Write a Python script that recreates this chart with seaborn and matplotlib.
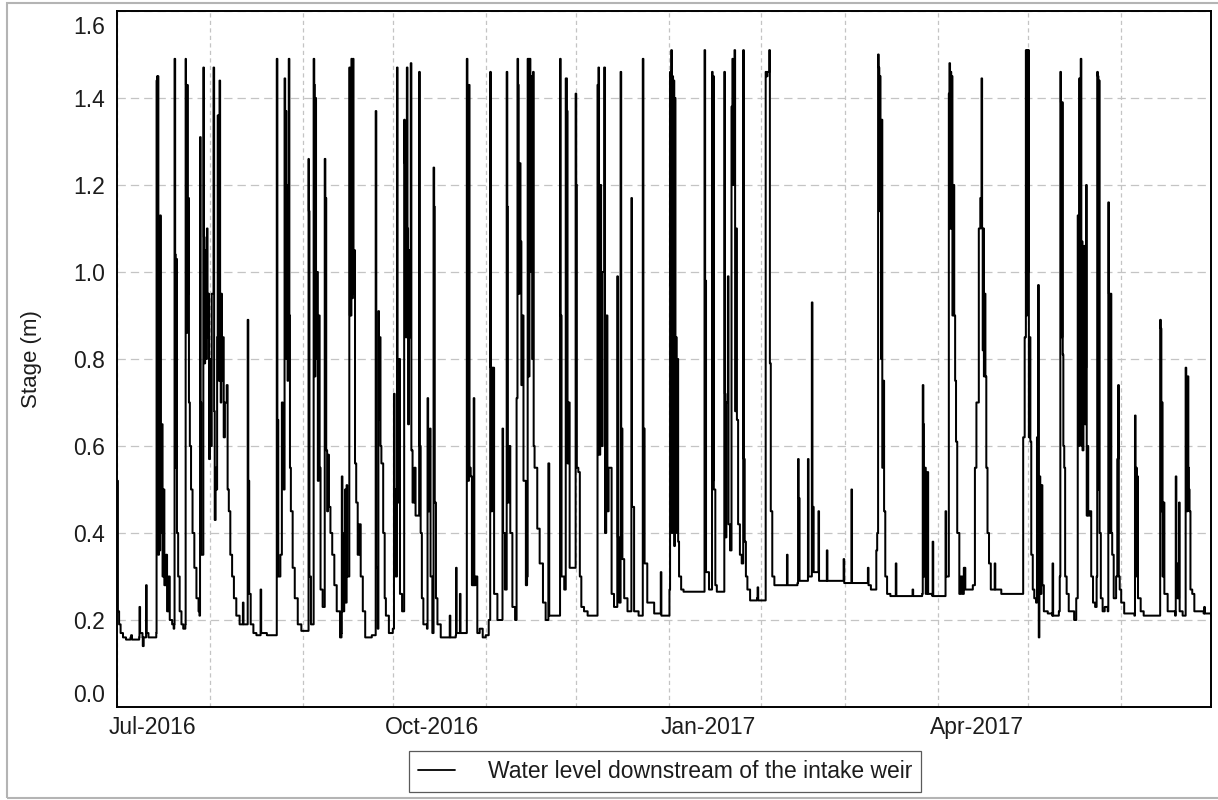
import pandas as pd
import matplotlib
matplotlib.use("Agg")
import matplotlib.pyplot as plt
import matplotlib.dates as mdates
from matplotlib.ticker import FixedLocator, FormatStrFormatter
from matplotlib.transforms import ScaledTranslation
from matplotlib.patches import Rectangle
import seaborn as sns

# Stage readings as (days since 2016-07-01, stage in metres), one list per month
START = "2016-07-01"
END = "2017-06-30 23:00"

jul_2016 = [
    (0.0, 0.52), (0.3, 0.22), (0.7, 0.19), (1.2, 0.17), (2.0, 0.16), (3.0, 0.155), (4.5, 0.16), (4.7, 0.165),
    (5.0, 0.155), (6.5, 0.155), (7.4, 0.16), (7.5, 0.23), (7.7, 0.17), (8.5, 0.16), (8.6, 0.14), (8.9, 0.16),
    (9.6, 0.16), (9.7, 0.28), (9.9, 0.17), (10.5, 0.16), (12.9, 0.16),
    (13.1, 0.17), (13.2, 1.44), (13.4, 1.45), (13.5, 0.68), (13.6, 1.45), (13.8, 0.35), (14.0, 0.70), (14.1, 0.36),
    (14.4, 1.13), (14.6, 0.62), (14.8, 0.40), (15.0, 0.65), (15.2, 0.30), (15.5, 0.50), (15.8, 0.28), (16.3, 0.35),
    (16.7, 0.22), (17.2, 0.30), (17.6, 0.20), (18.4, 0.19), (18.9, 0.18),
    (19.1, 0.19), (19.2, 1.49), (19.4, 1.04), (19.6, 0.55), (19.8, 1.03), (20.0, 0.40), (20.4, 0.30), (20.9, 0.22),
    (21.5, 0.19), (22.1, 0.18),
    (22.8, 0.19), (22.9, 1.49), (23.0, 1.43), (23.2, 0.86), (23.4, 1.43), (23.6, 0.95), (23.8, 1.17), (24.0, 0.70),
    (24.3, 0.60), (24.7, 0.50), (25.2, 0.40), (25.8, 0.32), (26.5, 0.25), (27.2, 0.22), (27.5, 0.21),
    (27.7, 1.31), (27.9, 0.70), (28.1, 0.35), (28.8, 1.47), (29.0, 1.08), (29.2, 0.79), (29.4, 1.05), (29.6, 0.80),
    (30.0, 1.10), (30.2, 0.85), (30.5, 0.95), (30.7, 0.57), (31.0, 0.80),
]
aug_2016 = [
    (31.2, 0.60), (31.6, 0.95), (32.2, 1.47), (32.4, 0.68), (32.6, 0.43), (32.9, 0.55), (33.2, 0.50), (33.4, 0.85),
    (33.6, 1.36), (33.8, 1.00), (34.0, 0.75), (34.2, 1.44), (34.4, 0.95), (34.6, 0.70), (34.8, 0.95), (35.0, 0.75),
    (35.3, 0.85), (35.6, 0.62), (36.0, 0.70), (36.6, 0.74), (36.9, 0.50), (37.3, 0.45), (37.8, 0.35), (38.4, 0.30),
    (39.0, 0.25), (39.8, 0.21), (40.9, 0.19),
    (41.9, 0.19), (42.0, 0.24), (42.2, 0.19), (43.5, 0.19), (43.6, 0.89), (43.8, 0.52), (44.1, 0.26), (44.6, 0.19),
    (45.5, 0.17), (46.5, 0.165), (47.8, 0.165), (47.9, 0.27), (48.1, 0.17), (50.0, 0.165), (53.1, 0.165),
    (53.3, 1.49), (53.5, 0.66), (53.8, 0.30), (54.5, 0.35), (55.0, 0.70), (55.3, 0.56), (55.6, 0.50), (55.9, 1.445),
    (56.1, 1.10), (56.3, 1.37), (56.5, 0.80), (56.7, 1.20), (56.9, 0.75), (57.1, 1.13), (57.3, 1.49), (57.5, 0.90),
    (57.7, 0.55), (58.0, 0.45), (58.6, 0.32), (59.3, 0.25), (60.3, 0.19), (61.5, 0.175),
]
sep_2016 = [
    (63.7, 0.175), (63.9, 1.26), (64.0, 1.14), (64.2, 0.30), (64.7, 0.19), (65.6, 1.49), (65.8, 1.43), (66.0, 0.76),
    (66.2, 1.40), (66.4, 0.80), (66.7, 1.00), (67.0, 0.52), (67.3, 0.90), (67.6, 0.55), (67.9, 0.27), (68.6, 0.23),
    (69.3, 1.26), (69.5, 1.17), (69.8, 0.59), (70.1, 0.45), (70.4, 0.58), (70.7, 0.46), (71.2, 0.40), (71.8, 0.35),
    (72.5, 0.28), (73.3, 0.22), (74.4, 0.16), (74.9, 0.17),
    (75.0, 0.53), (75.2, 0.22), (75.8, 0.40), (76.1, 0.50), (76.3, 0.24), (76.6, 0.51), (76.8, 0.30), (77.5, 1.47),
    (77.7, 0.90), (78.2, 1.49), (78.4, 0.94), (78.7, 1.49), (78.9, 0.95), (79.2, 1.05), (79.4, 0.56), (79.8, 0.47),
    (80.3, 0.35), (80.8, 0.42), (81.3, 0.30), (82.0, 0.22), (82.8, 0.16), (85.0, 0.165), (86.1, 0.165),
    (86.3, 1.37), (86.5, 0.32), (87.0, 0.18), (87.2, 0.91), (87.4, 0.66), (87.6, 0.85), (87.9, 0.60), (88.2, 0.56),
    (88.8, 0.40), (89.3, 0.25), (89.7, 0.21), (90.7, 0.17), (92.0, 0.18),
]
oct_2016 = [
    (92.4, 0.72), (92.6, 0.50), (93.0, 0.30), (93.4, 1.47), (93.6, 0.80), (93.9, 0.47), (94.1, 0.80), (94.4, 0.26),
    (95.1, 0.22), (95.8, 1.35), (96.0, 1.25), (96.3, 0.85), (96.7, 1.47), (96.9, 1.10), (97.1, 0.65), (97.4, 1.05),
    (97.7, 0.85), (98.0, 1.48), (98.2, 0.59), (98.6, 0.47), (99.2, 0.55), (99.6, 0.44), (100.8, 1.46), (101.0, 0.60),
    (101.3, 0.40), (101.7, 0.25), (102.2, 0.19), (103.4, 0.18),
    (103.6, 0.71), (103.8, 0.45), (104.4, 0.64), (104.6, 0.30), (105.2, 0.17), (105.6, 1.24), (105.8, 1.15),
    (106.0, 0.47), (106.4, 0.25), (106.9, 0.19), (108.0, 0.16), (110.0, 0.16), (111.0, 0.21), (111.2, 0.16),
    (113.0, 0.165), (113.1, 0.32), (113.3, 0.17), (114.4, 0.26), (114.6, 0.17), (116.5, 0.17),
    (116.7, 1.49), (116.9, 1.43), (117.1, 0.52), (117.4, 1.43), (117.6, 0.55), (118.0, 0.53), (118.4, 0.28),
    (119.0, 0.71), (119.2, 0.28), (119.6, 0.30), (120.2, 0.17), (121.0, 0.18), (122.0, 0.16),
]
nov_2016 = [
    (123.0, 0.165), (124.0, 0.20), (124.5, 1.46), (124.7, 0.78), (124.9, 0.45), (125.2, 0.78), (125.8, 0.26),
    (126.9, 0.20), (128.3, 0.20),
    (128.6, 0.64), (128.8, 0.40), (129.4, 0.27), (130.0, 1.46), (130.2, 1.15), (130.4, 0.47), (130.7, 0.60),
    (131.2, 0.40), (131.9, 0.23), (132.8, 0.20),
    (133.3, 0.71), (133.6, 1.49), (133.8, 1.43), (134.0, 0.95), (134.3, 1.25), (134.6, 1.07), (134.9, 0.74),
    (135.2, 0.90), (135.6, 0.52), (136.4, 0.28), (136.8, 0.30), (137.0, 1.49), (137.3, 0.76), (137.6, 1.49),
    (137.9, 1.00), (138.2, 1.45), (138.5, 0.80), (138.8, 1.46), (139.0, 0.60), (139.3, 0.55), (140.2, 0.41),
    (141.0, 0.33), (142.1, 0.24), (143.0, 0.20), (143.9, 0.56), (144.2, 0.21), (145.0, 0.21), (147.4, 0.21),
    (147.8, 1.49), (148.0, 0.90), (148.3, 0.30), (149.2, 0.27), (149.7, 1.445), (150.1, 1.37), (150.3, 0.56),
    (150.6, 0.70), (151.0, 0.32), (153.0, 1.41),
]
dec_2016 = [
    (153.2, 1.20), (153.4, 0.55), (153.9, 0.54), (154.4, 0.30), (154.9, 0.23), (155.8, 0.22), (157.0, 0.21),
    (159.8, 0.21),
    (160.3, 1.43), (160.6, 1.47), (160.8, 0.58), (161.2, 1.20), (161.5, 0.60), (162.0, 1.00), (162.5, 1.47),
    (162.8, 0.40), (163.2, 0.90), (163.6, 0.45), (164.0, 0.55), (165.0, 0.26), (165.8, 0.23), (166.9, 0.99),
    (167.1, 0.39), (167.5, 0.24), (168.0, 1.46), (168.2, 0.64), (168.6, 0.34), (169.2, 0.25), (170.3, 0.22),
    (171.6, 1.17), (171.8, 0.46), (172.5, 0.22), (174.0, 0.21), (175.4, 1.49), (175.6, 0.64), (176.0, 0.33),
    (176.9, 0.24), (179.2, 0.215), (181.4, 0.31), (181.6, 0.21), (183.0, 0.21),
]
jan_2017 = [
    (184.3, 0.27), (184.5, 1.46), (184.7, 0.97), (184.9, 1.51), (185.1, 0.40), (185.3, 1.45), (185.5, 0.70),
    (185.7, 1.44), (185.9, 0.37), (186.1, 1.40), (186.3, 0.55), (186.5, 0.85), (186.7, 0.40), (186.9, 0.80),
    (187.2, 0.38), (187.5, 0.30), (188.2, 0.27), (189.0, 0.265), (195.8, 0.265),
    (196.0, 1.51), (196.2, 0.98), (196.5, 0.31), (197.5, 0.27), (198.5, 1.46), (198.7, 0.52), (198.9, 1.45),
    (199.1, 0.50), (199.6, 0.28), (200.1, 0.265), (202.4, 0.265),
    (202.6, 1.46), (202.8, 0.72), (203.0, 0.39), (203.3, 0.70), (203.8, 0.99), (204.0, 0.42), (204.5, 0.36),
    (205.0, 1.38), (205.3, 1.49), (205.5, 1.20), (205.7, 1.30), (206.0, 1.51), (206.2, 0.68), (206.5, 1.10),
    (206.8, 0.66), (207.2, 0.42), (207.8, 0.35), (208.4, 0.33), (208.9, 1.51), (209.1, 0.57), (209.4, 0.38),
    (209.8, 0.30), (210.3, 0.27), (211.2, 0.245), (213.5, 0.25), (213.7, 0.275), (213.9, 0.245),
]
feb_2017 = [
    (216.2, 0.245), (216.4, 1.46), (216.6, 1.45), (217.0, 1.46), (217.6, 1.51), (217.8, 0.79), (218.1, 0.45),
    (218.6, 0.30), (219.3, 0.28), (223.3, 0.28), (223.5, 0.35), (223.7, 0.28), (227.0, 0.285), (227.2, 0.57),
    (227.4, 0.48), (227.7, 0.29), (230.3, 0.29), (230.5, 0.57), (230.7, 0.30), (231.6, 0.30), (231.8, 0.93),
    (232.0, 0.46), (232.4, 0.31), (233.8, 0.31), (234.0, 0.45), (234.2, 0.29), (236.6, 0.29), (236.8, 0.36),
    (237.0, 0.29), (242.2, 0.29), (242.4, 0.34), (242.6, 0.285),
]
mar_2017 = [
    (244.8, 0.285), (245.0, 0.50), (245.2, 0.285), (250.3, 0.285), (250.5, 0.32), (250.7, 0.28), (251.5, 0.27),
    (253.0, 0.27), (253.3, 0.36), (253.6, 0.40), (253.9, 1.50), (254.1, 1.47), (254.3, 1.14), (254.5, 1.45),
    (254.7, 1.20), (254.9, 0.80), (255.1, 1.35), (255.3, 0.55), (255.6, 0.75), (255.9, 0.45), (256.3, 0.30),
    (256.9, 0.26), (258.0, 0.255), (259.7, 0.255), (259.8, 0.33), (260.0, 0.255), (265.3, 0.255), (265.4, 0.27),
    (265.6, 0.255), (268.6, 0.26), (268.8, 0.74), (269.0, 0.65), (269.2, 0.30), (269.5, 0.55), (269.8, 0.26),
    (270.3, 0.54), (270.6, 0.26), (272.0, 0.255), (272.1, 0.38), (272.3, 0.255),
]
apr_2017 = [
    (276.0, 0.255), (276.4, 0.45), (276.6, 0.30), (277.5, 1.41), (277.7, 1.48), (277.9, 1.10), (278.1, 1.46),
    (278.3, 1.10), (278.5, 1.45), (278.7, 0.90), (279.0, 1.20), (279.3, 0.90), (279.6, 0.75), (279.9, 0.61),
    (280.3, 0.40), (280.7, 0.40), (281.0, 0.26), (281.5, 0.30), (282.0, 0.26), (282.5, 0.32), (283.0, 0.27),
    (285.5, 0.28),
    (286.2, 0.55), (286.7, 0.70), (287.5, 1.10), (288.0, 1.17), (288.4, 1.445), (288.6, 1.10), (288.8, 0.82),
    (289.0, 1.10), (289.2, 0.76), (289.5, 0.95), (289.7, 0.76), (290.0, 0.55), (290.4, 0.40), (290.9, 0.33),
    (291.5, 0.27), (292.7, 0.27), (292.8, 0.33), (293.0, 0.27), (295.0, 0.26), (302.0, 0.26),
    (302.3, 0.62), (302.8, 0.85), (303.2, 1.51), (303.4, 0.90), (303.6, 1.51), (303.8, 1.00),
]
may_2017 = [
    (304.0, 1.51), (304.2, 0.62), (304.4, 0.85), (304.7, 0.61), (305.0, 0.35), (305.5, 0.27), (306.0, 0.25),
    (306.6, 0.24), (306.9, 0.62), (307.1, 0.25), (307.3, 0.97), (307.5, 0.16), (307.7, 0.53), (308.0, 0.26),
    (308.4, 0.51), (308.7, 0.28), (309.2, 0.22), (310.5, 0.215), (312.0, 0.21), (312.1, 0.33), (312.3, 0.21),
    (314.2, 0.22),
    (314.5, 0.30), (314.7, 1.46), (314.9, 1.39), (315.1, 0.85), (315.3, 1.39), (315.5, 0.81), (315.7, 0.60),
    (316.0, 0.55), (316.3, 0.30), (316.8, 0.26), (317.5, 0.22), (319.3, 0.20), (320.0, 0.25),
    (320.5, 1.13), (320.7, 0.60), (321.0, 1.445), (321.2, 0.80), (321.5, 1.49), (321.7, 0.60), (321.9, 1.07),
    (322.1, 0.59), (322.4, 1.00), (322.7, 1.06), (322.9, 0.65), (323.1, 0.78), (323.3, 1.20), (323.5, 0.44),
    (323.7, 0.60), (324.0, 0.44), (324.5, 0.45), (325.0, 0.30), (325.6, 0.24), (326.3, 0.23), (326.8, 0.30),
    (327.0, 1.46), (327.2, 1.45), (327.4, 0.50), (327.6, 1.44), (327.8, 0.40), (328.2, 0.25), (328.8, 0.22),
    (329.5, 0.23), (330.5, 0.22), (330.7, 1.16), (330.9, 0.95), (331.1, 0.40), (331.4, 0.95), (331.7, 0.40),
    (332.0, 0.35), (332.5, 0.25), (333.3, 0.30), (333.7, 0.57), (334.0, 0.74), (334.2, 0.30), (334.5, 0.27),
]
jun_2017 = [
    (335.0, 0.24), (336.0, 0.215), (339.4, 0.21), (339.6, 0.67), (339.8, 0.45), (340.0, 0.55), (340.2, 0.30),
    (340.4, 0.53), (340.6, 0.25), (341.5, 0.22), (342.5, 0.21), (347.8, 0.21), (348.0, 0.89), (348.2, 0.87),
    (348.4, 0.45), (348.6, 0.70), (348.8, 0.30), (349.1, 0.47), (349.4, 0.26), (350.5, 0.22), (353.0, 0.21),
    (353.2, 0.53), (353.4, 0.33), (353.7, 0.25), (354.3, 0.47), (354.5, 0.22), (355.5, 0.21), (356.5, 0.78),
    (356.7, 0.59), (356.9, 0.45), (357.2, 0.76), (357.4, 0.55), (357.6, 0.50), (357.8, 0.45), (358.1, 0.27),
    (358.7, 0.26), (359.4, 0.22), (360.5, 0.22), (362.5, 0.215), (362.7, 0.23), (362.9, 0.215), (365.0, 0.21),
]

series_label = "Water level downstream of the intake weir"
y_label = "Stage (m)"
y_ticks = [0.0, 0.2, 0.4, 0.6, 0.8, 1.0, 1.2, 1.4, 1.6]

monthly = [jul_2016, aug_2016, sep_2016, oct_2016, nov_2016, dec_2016,
           jan_2017, feb_2017, mar_2017, apr_2017, may_2017, jun_2017]

sns.set_theme(style="white")
plt.rcParams["font.family"] = ["Liberation Sans", "DejaVu Sans"]
plt.rcParams["lines.scale_dashes"] = False

df = pd.DataFrame([p for month in monthly for p in month], columns=["day", "stage"])
df["time"] = pd.Timestamp(START) + pd.to_timedelta(df["day"], unit="D")

W, H = 1218, 800
FS = 16.5
fig = plt.figure(figsize=(W / 100, H / 100), dpi=100)
fig.patch.set_facecolor("white")
ax_left, ax_right, ax_top, ax_bottom = 117, 1211, 11, 707
ax = fig.add_axes([ax_left / W, 1 - ax_bottom / H, (ax_right - ax_left) / W, (ax_bottom - ax_top) / H])

# logger values hold until the next reading
sns.lineplot(data=df, x="time", y="stage", ax=ax, color="black", linewidth=1.45,
             estimator=None, sort=False, label=series_label, drawstyle="steps-post")

ax.set_xlim(pd.Timestamp(START), pd.Timestamp(END))
ax.set_ylim(0.0, 1.6)

# quarterly labels, monthly grid
ax.xaxis.set_major_locator(mdates.MonthLocator(bymonth=[1, 4, 7, 10]))
ax.xaxis.set_minor_locator(mdates.MonthLocator())
ax.xaxis.set_major_formatter(mdates.DateFormatter("%b-%Y"))
ax.yaxis.set_major_locator(FixedLocator(y_ticks))
ax.yaxis.set_major_formatter(FormatStrFormatter("%.1f"))

ax.grid(True, which="both", axis="x", color="#c4c4c4", linewidth=0.9, linestyle=(0, (3.0, 2.4)))
ax.grid(True, which="major", axis="y", color="#c4c4c4", linewidth=0.9, linestyle=(0, (6.0, 3.6)))
ax.set_axisbelow(True)

for side in ["left", "right", "top", "bottom"]:
    ax.spines[side].set_visible(True)
    ax.spines[side].set_color("black")
    ax.spines[side].set_linewidth(1.4)

text_color = "#1c1c1c"
ax.tick_params(axis="both", which="both", length=0, labelsize=FS, colors=text_color)
ax.tick_params(axis="x", pad=6.5)
ax.tick_params(axis="y", pad=8.5)

ax.set_xlabel("")
ax.set_ylabel(y_label, fontsize=FS - 0.5, color=text_color)
ax.yaxis.set_label_coords((42 - ax_left) / (ax_right - ax_left), 0.5)

leg = ax.legend(loc="center", bbox_to_anchor=(665 / W, 1 - 771.5 / H), bbox_transform=fig.transFigure,
                frameon=True, fancybox=False, shadow=False, framealpha=1.0, edgecolor="#5a5a5a",
                fontsize=FS, handlelength=1.6, handletextpad=1.45, borderpad=0.38, borderaxespad=0)
leg.get_frame().set_linewidth(0.9)
for line in leg.get_lines():
    line.set_linewidth(1.3)
for t in leg.get_texts():
    t.set_color(text_color)

# outer panel border
fig.add_artist(Rectangle((7 / W, 2 / H), 1.2, 795 / H, transform=fig.transFigure,
                         fill=False, edgecolor="#b4b4b4", linewidth=1.5))

fig.canvas.draw()

# quarter labels start just left of their gridline
for lab in ax.get_xticklabels():
    lab.set_horizontalalignment("left")
    lab.set_transform(lab.get_transform() + ScaledTranslation(-8 / 100, 0, fig.dpi_scale_trans))

# keep the end labels inside the plot height
for lab in ax.get_yticklabels():
    txt = lab.get_text()
    if txt == "1.6":
        lab.set_transform(lab.get_transform() + ScaledTranslation(0, -14.5 / 100, fig.dpi_scale_trans))
    elif txt == "0.0":
        lab.set_transform(lab.get_transform() + ScaledTranslation(0, 14.5 / 100, fig.dpi_scale_trans))

fig.savefig("out.png", dpi=100)
